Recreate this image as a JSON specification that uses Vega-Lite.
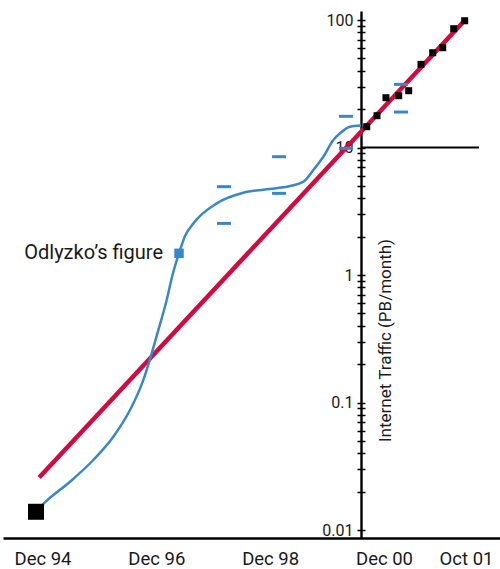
{
  "$schema": "https://vega.github.io/schema/vega-lite/v6.json",
  "width": 497,
  "height": 527,
  "autosize": {"type": "none"},
  "padding": {"left": 3, "top": 11, "right": 0, "bottom": 31},
  "background": "white",
  "config": {"view": {"stroke": null}, "font": "Roboto"},
  "data": {
    "values": [
      {"series": "ref10", "m": 67.16, "m2": 83.59, "v": 10},
      {"series": "fit", "m": -0.7, "v": 0.0258},
      {"series": "fit", "m": 82.0, "v": 102},
      {"series": "curve", "m": -1.37, "v": 0.0139},
      {"series": "curve", "m": 0.17, "v": 0.016},
      {"series": "curve", "m": 5.8, "v": 0.0239},
      {"series": "curve", "m": 10.71, "v": 0.0354},
      {"series": "curve", "m": 14.93, "v": 0.0539},
      {"series": "curve", "m": 18.45, "v": 0.0873},
      {"series": "curve", "m": 21.25, "v": 0.15},
      {"series": "curve", "m": 23.03, "v": 0.243},
      {"series": "curve", "m": 24.42, "v": 0.37},
      {"series": "curve", "m": 26.19, "v": 0.637},
      {"series": "curve", "m": 27.41, "v": 1.0},
      {"series": "curve", "m": 28.78, "v": 1.48},
      {"series": "curve", "m": 30.05, "v": 2.02},
      {"series": "curve", "m": 31.8, "v": 2.54},
      {"series": "curve", "m": 36.73, "v": 3.65},
      {"series": "curve", "m": 42.34, "v": 4.42},
      {"series": "curve", "m": 47.27, "v": 4.7},
      {"series": "curve", "m": 52.19, "v": 4.99},
      {"series": "curve", "m": 54.99, "v": 5.39},
      {"series": "curve", "m": 57.1, "v": 6.66},
      {"series": "curve", "m": 59.21, "v": 8.47},
      {"series": "curve", "m": 61.32, "v": 11.45},
      {"series": "curve", "m": 62.73, "v": 12.93},
      {"series": "curve", "m": 64.84, "v": 14.56},
      {"series": "curve", "m": 67.16, "v": 14.88},
      {"series": "est", "m": 38.27, "v": 4.93},
      {"series": "est", "m": 38.27, "v": 2.54},
      {"series": "est", "m": 49.87, "v": 8.47},
      {"series": "est", "m": 49.87, "v": 4.37},
      {"series": "est", "m": 63.99, "v": 17.57},
      {"series": "est", "m": 63.99, "v": 9.86},
      {"series": "est", "m": 74.07, "v": 31.3},
      {"series": "est", "m": 74.07, "v": 18.98},
      {"series": "start", "m": -1.37, "v": 0.0139},
      {"series": "odlyzko", "m": 28.78, "v": 1.48, "label": "Odlyzko’s figure"},
      {"series": "meas", "m": 68.36, "v": 14.56},
      {"series": "meas", "m": 70.53, "v": 17.76},
      {"series": "meas", "m": 72.24, "v": 24.58},
      {"series": "meas", "m": 73.79, "v": 25.48},
      {"series": "meas", "m": 75.01, "v": 27.9},
      {"series": "meas", "m": 76.51, "v": 44.9},
      {"series": "meas", "m": 77.94, "v": 55.4},
      {"series": "meas", "m": 79.16, "v": 60.6},
      {"series": "meas", "m": 80.5, "v": 85.5},
      {"series": "meas", "m": 81.84, "v": 98.7}
    ]
  },
  "encoding": {
    "x": {
      "field": "m",
      "type": "quantitative",
      "scale": {"domain": [-8.328, 72, 82, 86.146], "range": [0, 381, 463, 497], "nice": false, "zero": false},
      "axis": {
        "values": [0, 24, 48, 72, 82],
        "labelExpr": "['Dec 94','Dec 96','Dec 98','Dec 00','Oct 01'][indexof([0,24,48,72,82], datum.value)]",
        "title": null,
        "grid": false,
        "ticks": false,
        "tickSize": 0,
        "domainColor": "#000000",
        "domainWidth": 2.4,
        "labelFont": "Roboto",
        "labelFontSize": 18.5,
        "labelColor": "#1a1a1a",
        "labelPadding": 11,
        "labelOverlap": false,
        "labelFlush": false,
        "labelBound": false
      }
    },
    "y": {
      "field": "v",
      "type": "quantitative",
      "scale": {"type": "log", "domain": [0.008656, 117.7], "nice": false},
      "axis": null
    }
  },
  "resolve": {"axis": {"y": "independent"}},
  "layer": [
    {
      "transform": [{"filter": "datum.series === 'ref10'"}],
      "mark": {"type": "rule", "color": "#000000", "strokeWidth": 2.2},
      "encoding": {
        "x2": {"field": "m2"},
        "y": {
          "field": "v",
          "type": "quantitative",
          "scale": {"type": "log", "domain": [0.008656, 117.7], "nice": false},
          "axis": {
            "orient": "left",
            "offset": -358,
            "values": [0.01, 0.02, 0.03, 0.04, 0.05, 0.06, 0.07, 0.08, 0.09, 0.1, 0.2, 0.3, 0.4, 0.5, 0.6, 0.7, 0.8, 0.9, 1, 2, 3, 4, 5, 6, 7, 8, 9, 10, 20, 30, 40, 50, 60, 70, 80, 90, 100],
            "labelExpr": "indexof([0.01,0.1,1,10,100], datum.value) >= 0 ? format(datum.value, '~g') : ''",
            "labelFont": "Roboto",
            "labelFontSize": 16,
            "labelColor": "#1a1a1a",
            "labelPadding": 4,
            "labelOverlap": false,
            "labelFlush": false,
            "labelBound": false,
            "grid": false,
            "tickSize": 4,
            "tickWidth": 1.5,
            "tickColor": "#000000",
            "domainColor": "#000000",
            "domainWidth": 2.4,
            "title": "Internet Traffic (PB/month)",
            "titleFont": "Roboto",
            "titleFontSize": 17,
            "titleFontWeight": "normal",
            "titleColor": "#1a1a1a",
            "titleAngle": -90,
            "titleX": 24,
            "titleY": 329,
            "titleAlign": "center",
            "titleBaseline": "middle"
          }
        }
      }
    },
    {
      "transform": [{"filter": "datum.series === 'fit'"}],
      "mark": {"type": "line", "color": "#d10a40", "strokeWidth": 4.5},
      "encoding": {}
    },
    {
      "transform": [{"filter": "datum.series === 'curve'"}],
      "mark": {"type": "line", "color": "#3a87c8", "strokeWidth": 2.5, "interpolate": "monotone"},
      "encoding": {}
    },
    {
      "transform": [{"filter": "datum.series === 'est'"}],
      "mark": {"type": "tick", "orient": "horizontal", "color": "#3a87c8", "size": 14, "thickness": 3, "opacity": 1},
      "encoding": {}
    },
    {
      "transform": [{"filter": "datum.series === 'start'"}],
      "mark": {"type": "square", "color": "#000000", "size": 256, "opacity": 1},
      "encoding": {}
    },
    {
      "transform": [{"filter": "datum.series === 'odlyzko'"}],
      "mark": {"type": "square", "color": "#3a87c8", "size": 90, "opacity": 1},
      "encoding": {}
    },
    {
      "transform": [{"filter": "datum.series === 'odlyzko'"}],
      "mark": {"type": "text", "align": "right", "baseline": "middle", "dx": -16, "font": "Roboto", "fontSize": 20, "color": "#1a1a1a"},
      "encoding": {"text": {"field": "label"}}
    },
    {
      "transform": [{"filter": "datum.series === 'meas'"}],
      "mark": {"type": "square", "color": "#000000", "size": 49, "opacity": 1},
      "encoding": {
        "y": {
          "field": "v",
          "type": "quantitative",
          "scale": {"type": "log", "domain": [0.008656, 117.7], "nice": false},
          "axis": {
            "orient": "right",
            "offset": -139,
            "values": [0.01, 0.02, 0.03, 0.04, 0.05, 0.06, 0.07, 0.08, 0.09, 0.1, 0.2, 0.3, 0.4, 0.5, 0.6, 0.7, 0.8, 0.9, 1, 2, 3, 4, 5, 6, 7, 8, 9, 10, 20, 30, 40, 50, 60, 70, 80, 90, 100],
            "labels": false,
            "domain": false,
            "grid": false,
            "tickSize": 4,
            "tickWidth": 1.5,
            "tickColor": "#000000",
            "title": null
          }
        }
      }
    }
  ]
}
